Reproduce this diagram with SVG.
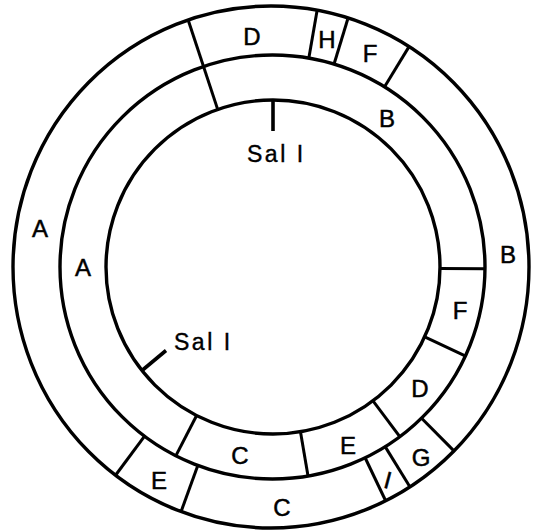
<svg xmlns="http://www.w3.org/2000/svg" width="535" height="532" viewBox="0 0 535 532">
<style>
.ring{fill:none;stroke:#000;stroke-width:3.4}
.div{stroke:#000;stroke-width:3;stroke-linecap:butt}
.tick{stroke:#000;stroke-width:3.6}
.lbl{font-family:"Liberation Sans","DejaVu Sans",sans-serif;font-size:24px;fill:#000;stroke:#000;stroke-width:0.5;text-anchor:middle;dominant-baseline:central}
.sal{font-family:"Liberation Sans","DejaVu Sans",sans-serif;font-size:23px;fill:#000;stroke:#000;stroke-width:0.4;letter-spacing:2.5px}
</style>
<rect width="535" height="532" fill="#fff"/>
<g id="circles">
<ellipse class="ring" cx="271" cy="267" rx="258" ry="261"/>
<ellipse class="ring" cx="272.5" cy="267" rx="212.5" ry="212"/>
<circle class="ring" cx="273" cy="267" r="167"/>
</g>
<g id="connectors">
<line class="div" x1="217.6" y1="109.1" x2="188.5" y2="21"/>
<line class="div" x1="308.8" y1="58.2" x2="317" y2="11"/>
<line class="div" x1="334" y1="64.3" x2="347.7" y2="19.3"/>
<line class="div" x1="384.3" y1="87.2" x2="409.2" y2="46.4"/>
<line class="div" x1="421.1" y1="417.7" x2="454.2" y2="451.1"/>
<line class="div" x1="385" y1="446.4" x2="410" y2="487"/>
<line class="div" x1="365" y1="457.5" x2="385.5" y2="500.5"/>
<line class="div" x1="197.8" y1="465.6" x2="181.3" y2="511"/>
<line class="div" x1="144.4" y1="436.3" x2="116.1" y2="474.5"/>
<line class="div" x1="440" y1="268.5" x2="485" y2="268.8"/>
<line class="div" x1="424.7" y1="336.8" x2="464.6" y2="355.6"/>
<line class="div" x1="373" y1="400.9" x2="399.6" y2="436.3"/>
<line class="div" x1="300.6" y1="432.6" x2="308.1" y2="476.5"/>
<line class="div" x1="196.5" y1="415.8" x2="175.8" y2="455.9"/>
<line class="tick" x1="273" y1="100" x2="273" y2="131"/>
<line class="tick" x1="142" y1="370.5" x2="166" y2="350.5"/>
</g>
<g id="outer-labels">
<text class="lbl" x="252" y="36">D</text>
<text class="lbl" x="327" y="39">H</text>
<text class="lbl" x="370" y="53">F</text>
<text class="lbl" x="508" y="254">B</text>
<text class="lbl" x="421" y="457">G</text>
<text class="lbl" transform="translate(388,480) rotate(15)" x="0" y="0">I</text>
<text class="lbl" x="282" y="507">C</text>
<text class="lbl" x="159" y="480">E</text>
<text class="lbl" x="40" y="228">A</text>
</g>
<g id="inner-labels">
<text class="lbl" x="387" y="118">B</text>
<text class="lbl" x="460" y="310">F</text>
<text class="lbl" x="420" y="388">D</text>
<text class="lbl" x="348" y="445">E</text>
<text class="lbl" x="240" y="455">C</text>
<text class="lbl" x="83" y="267">A</text>
</g>
<g id="sites">
<text class="sal" x="247" y="162">Sal I</text>
<text class="sal" x="174" y="350">Sal I</text>
</g>
</svg>
